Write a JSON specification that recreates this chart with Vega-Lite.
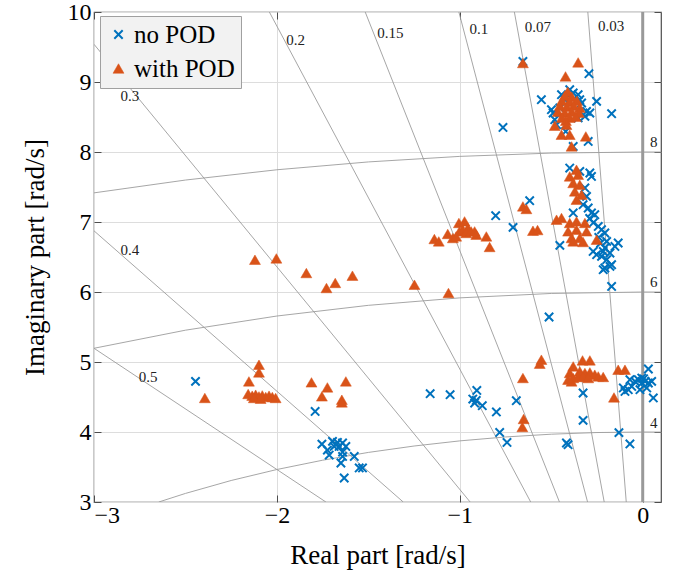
{
  "$schema": "https://vega.github.io/schema/vega-lite/v6.json",
  "width": 567,
  "height": 490,
  "autosize": "none",
  "padding": {"left": 94, "top": 12, "right": 15, "bottom": 79},
  "config": {
    "font": "Liberation Serif",
    "view": {"stroke": "#4d4d4d", "strokeWidth": 1.2},
    "axis": {
      "labelFontSize": 24,
      "titleFontSize": 27,
      "titleFontWeight": "normal",
      "labelColor": "#000000",
      "titleColor": "#000000",
      "gridColor": "#dddddd",
      "gridWidth": 1,
      "tickColor": "#4d4d4d",
      "tickSize": -7,
      "domain": false
    }
  },
  "datasets": {
    "zeta": [
      {"z": "0.03", "re": -0.0900, "im": 3}, {"z": "0.03", "re": -0.3001, "im": 10},
      {"z": "0.07", "re": -0.2105, "im": 3}, {"z": "0.07", "re": -0.7017, "im": 10},
      {"z": "0.1", "re": -0.3015, "im": 3}, {"z": "0.1", "re": -1.0050, "im": 10},
      {"z": "0.15", "re": -0.4552, "im": 3}, {"z": "0.15", "re": -1.5172, "im": 10},
      {"z": "0.2", "re": -0.6124, "im": 3}, {"z": "0.2", "re": -2.0412, "im": 10},
      {"z": "0.3", "re": -0.9435, "im": 3}, {"z": "0.3", "re": -3.0, "im": 9.539},
      {"z": "0.4", "re": -1.3093, "im": 3}, {"z": "0.4", "re": -3.0, "im": 6.874},
      {"z": "0.5", "re": -1.7321, "im": 3}, {"z": "0.5", "re": -3.0, "im": 5.196}
    ],
    "circ": [
      {"r": 4, "re": -2.6458, "im": 3.0}, {"r": 4, "re": -2.5, "im": 3.1225}, {"r": 4, "re": -2.25, "im": 3.3072},
      {"r": 4, "re": -2.0, "im": 3.4641}, {"r": 4, "re": -1.75, "im": 3.5969}, {"r": 4, "re": -1.5, "im": 3.7081},
      {"r": 4, "re": -1.25, "im": 3.7997}, {"r": 4, "re": -1.0, "im": 3.8730}, {"r": 4, "re": -0.75, "im": 3.9291},
      {"r": 4, "re": -0.5, "im": 3.9686}, {"r": 4, "re": -0.25, "im": 3.9922}, {"r": 4, "re": 0.0, "im": 4.0},
      {"r": 4, "re": 0.1, "im": 3.9988},
      {"r": 6, "re": -3.0, "im": 5.1962}, {"r": 6, "re": -2.5, "im": 5.4544}, {"r": 6, "re": -2.0, "im": 5.6569},
      {"r": 6, "re": -1.5, "im": 5.8095}, {"r": 6, "re": -1.0, "im": 5.9161}, {"r": 6, "re": -0.5, "im": 5.9791},
      {"r": 6, "re": 0.0, "im": 6.0}, {"r": 6, "re": 0.1, "im": 5.9992},
      {"r": 8, "re": -3.0, "im": 7.4162}, {"r": 8, "re": -2.5, "im": 7.5993}, {"r": 8, "re": -2.0, "im": 7.7460},
      {"r": 8, "re": -1.5, "im": 7.8581}, {"r": 8, "re": -1.0, "im": 7.9373}, {"r": 8, "re": -0.5, "im": 7.9844},
      {"r": 8, "re": 0.0, "im": 8.0}, {"r": 8, "re": 0.1, "im": 7.9994}
    ],
    "labels": [
      {"t": "0.2", "re": -1.949, "im": 9.60},
      {"t": "0.15", "re": -1.451, "im": 9.70},
      {"t": "0.1", "re": -0.947, "im": 9.76},
      {"t": "0.07", "re": -0.645, "im": 9.79},
      {"t": "0.03", "re": -0.245, "im": 9.80},
      {"t": "0.3", "re": -2.855, "im": 8.80},
      {"t": "0.4", "re": -2.855, "im": 6.60},
      {"t": "0.5", "re": -2.756, "im": 4.79},
      {"t": "8", "re": 0.040, "im": 8.145},
      {"t": "6", "re": 0.040, "im": 6.146},
      {"t": "4", "re": 0.040, "im": 4.133}
    ],
    "poles": [
      {"s": "no POD", "re": -0.655, "im": 9.294}, {"s": "no POD", "re": -0.294, "im": 9.119},
      {"s": "no POD", "re": -0.554, "im": 8.747}, {"s": "no POD", "re": -0.499, "im": 8.604},
      {"s": "no POD", "re": -0.490, "im": 8.557}, {"s": "no POD", "re": -0.444, "im": 8.819},
      {"s": "no POD", "re": -0.380, "im": 8.843}, {"s": "no POD", "re": -0.353, "im": 8.819},
      {"s": "no POD", "re": -0.344, "im": 8.747}, {"s": "no POD", "re": -0.334, "im": 8.700},
      {"s": "no POD", "re": -0.252, "im": 8.723}, {"s": "no POD", "re": -0.170, "im": 8.547},
      {"s": "no POD", "re": -0.307, "im": 8.580}, {"s": "no POD", "re": -0.289, "im": 8.557},
      {"s": "no POD", "re": -0.316, "im": 8.509}, {"s": "no POD", "re": -0.353, "im": 8.486},
      {"s": "no POD", "re": -0.481, "im": 8.461}, {"s": "no POD", "re": -0.471, "im": 8.390},
      {"s": "no POD", "re": -0.764, "im": 8.351}, {"s": "no POD", "re": -0.421, "im": 8.294},
      {"s": "no POD", "re": -0.298, "im": 8.151}, {"s": "no POD", "re": -0.380, "im": 8.080},
      {"s": "no POD", "re": -0.426, "im": 8.747}, {"s": "no POD", "re": -0.399, "im": 8.890},
      {"s": "no POD", "re": -0.453, "im": 8.630},
      {"s": "no POD", "re": -0.399, "im": 7.771}, {"s": "no POD", "re": -0.344, "im": 7.723},
      {"s": "no POD", "re": -0.289, "im": 7.700}, {"s": "no POD", "re": -0.280, "im": 7.651},
      {"s": "no POD", "re": -0.316, "im": 7.486}, {"s": "no POD", "re": -0.307, "im": 7.366},
      {"s": "no POD", "re": -0.326, "im": 7.247}, {"s": "no POD", "re": -0.298, "im": 7.200},
      {"s": "no POD", "re": -0.280, "im": 7.129}, {"s": "no POD", "re": -0.262, "im": 7.104},
      {"s": "no POD", "re": -0.380, "im": 7.129}, {"s": "no POD", "re": -0.243, "im": 6.937},
      {"s": "no POD", "re": -0.225, "im": 6.890}, {"s": "no POD", "re": -0.207, "im": 6.843},
      {"s": "no POD", "re": -0.134, "im": 6.700}, {"s": "no POD", "re": -0.152, "im": 6.651},
      {"s": "no POD", "re": -0.197, "im": 6.723}, {"s": "no POD", "re": -0.207, "im": 6.629},
      {"s": "no POD", "re": -0.271, "im": 6.580}, {"s": "no POD", "re": -0.252, "im": 6.533},
      {"s": "no POD", "re": -0.225, "im": 6.509}, {"s": "no POD", "re": -0.197, "im": 6.461},
      {"s": "no POD", "re": -0.170, "im": 6.390}, {"s": "no POD", "re": -0.207, "im": 6.343},
      {"s": "no POD", "re": -0.216, "im": 6.580}, {"s": "no POD", "re": -0.179, "im": 6.557},
      {"s": "no POD", "re": -0.453, "im": 6.666}, {"s": "no POD", "re": -0.618, "im": 7.304},
      {"s": "no POD", "re": -0.804, "im": 7.090}, {"s": "no POD", "re": -0.709, "im": 6.923},
      {"s": "no POD", "re": -0.170, "im": 6.080}, {"s": "no POD", "re": -0.216, "im": 6.319},
      {"s": "no POD", "re": -0.179, "im": 6.366}, {"s": "no POD", "re": -0.290, "im": 7.050},
      {"s": "no POD", "re": -0.270, "im": 6.990}, {"s": "no POD", "re": -0.240, "im": 6.780},
      {"s": "no POD", "re": -0.230, "im": 6.700},
      {"s": "no POD", "re": -2.445, "im": 4.723}, {"s": "no POD", "re": -1.791, "im": 4.294},
      {"s": "no POD", "re": -1.754, "im": 3.827}, {"s": "no POD", "re": -1.724, "im": 3.741},
      {"s": "no POD", "re": -1.714, "im": 3.670}, {"s": "no POD", "re": -1.696, "im": 3.866},
      {"s": "no POD", "re": -1.678, "im": 3.819}, {"s": "no POD", "re": -1.660, "im": 3.794},
      {"s": "no POD", "re": -1.687, "im": 3.794}, {"s": "no POD", "re": -1.669, "im": 3.851},
      {"s": "no POD", "re": -1.641, "im": 3.843}, {"s": "no POD", "re": -1.623, "im": 3.794},
      {"s": "no POD", "re": -1.641, "im": 3.651}, {"s": "no POD", "re": -1.650, "im": 3.557},
      {"s": "no POD", "re": -1.632, "im": 3.343}, {"s": "no POD", "re": -1.577, "im": 3.651},
      {"s": "no POD", "re": -1.550, "im": 3.486}, {"s": "no POD", "re": -1.532, "im": 3.486},
      {"s": "no POD", "re": -1.641, "im": 3.714},
      {"s": "no POD", "re": -0.512, "im": 5.643}, {"s": "no POD", "re": -1.162, "im": 4.547},
      {"s": "no POD", "re": -1.053, "im": 4.533}, {"s": "no POD", "re": -0.907, "im": 4.594},
      {"s": "no POD", "re": -0.929, "im": 4.471}, {"s": "no POD", "re": -0.919, "im": 4.414},
      {"s": "no POD", "re": -0.910, "im": 4.451}, {"s": "no POD", "re": -0.877, "im": 4.376},
      {"s": "no POD", "re": -0.800, "im": 4.286}, {"s": "no POD", "re": -0.691, "im": 4.447},
      {"s": "no POD", "re": -0.782, "im": 3.994}, {"s": "no POD", "re": -0.742, "im": 3.851},
      {"s": "no POD", "re": -0.326, "im": 4.557}, {"s": "no POD", "re": -0.326, "im": 4.166},
      {"s": "no POD", "re": -0.417, "im": 3.843}, {"s": "no POD", "re": -0.408, "im": 3.819},
      {"s": "no POD", "re": 0.031, "im": 4.900}, {"s": "no POD", "re": -0.070, "im": 4.747},
      {"s": "no POD", "re": -0.042, "im": 4.723}, {"s": "no POD", "re": -0.024, "im": 4.747},
      {"s": "no POD", "re": -0.005, "im": 4.771}, {"s": "no POD", "re": 0.013, "im": 4.723},
      {"s": "no POD", "re": 0.031, "im": 4.700}, {"s": "no POD", "re": 0.049, "im": 4.723},
      {"s": "no POD", "re": -0.106, "im": 4.629}, {"s": "no POD", "re": -0.079, "im": 4.604},
      {"s": "no POD", "re": -0.097, "im": 4.580}, {"s": "no POD", "re": -0.060, "im": 4.651},
      {"s": "no POD", "re": 0.058, "im": 4.486}, {"s": "no POD", "re": -0.015, "im": 4.604},
      {"s": "no POD", "re": 0.022, "im": 4.629}, {"s": "no POD", "re": -0.130, "im": 3.991},
      {"s": "no POD", "re": -0.070, "im": 3.830}, {"s": "no POD", "re": -0.005, "im": 4.700},
      {"s": "no POD", "re": 0.005, "im": 4.760},
      {"s": "with POD", "re": -0.655, "im": 9.271}, {"s": "with POD", "re": -0.353, "im": 9.280},
      {"s": "with POD", "re": -0.422, "im": 9.080}, {"s": "with POD", "re": -0.410, "im": 8.861},
      {"s": "with POD", "re": -0.426, "im": 8.804}, {"s": "with POD", "re": -0.388, "im": 8.790},
      {"s": "with POD", "re": -0.442, "im": 8.733}, {"s": "with POD", "re": -0.399, "im": 8.719},
      {"s": "with POD", "re": -0.360, "im": 8.733}, {"s": "with POD", "re": -0.453, "im": 8.661},
      {"s": "with POD", "re": -0.415, "im": 8.647}, {"s": "with POD", "re": -0.377, "im": 8.661},
      {"s": "with POD", "re": -0.344, "im": 8.633}, {"s": "with POD", "re": -0.464, "im": 8.576},
      {"s": "with POD", "re": -0.426, "im": 8.561}, {"s": "with POD", "re": -0.388, "im": 8.576},
      {"s": "with POD", "re": -0.349, "im": 8.561}, {"s": "with POD", "re": -0.442, "im": 8.490},
      {"s": "with POD", "re": -0.399, "im": 8.490}, {"s": "with POD", "re": -0.366, "im": 8.504},
      {"s": "with POD", "re": -0.420, "im": 8.447}, {"s": "with POD", "re": -0.481, "im": 8.376},
      {"s": "with POD", "re": -0.417, "im": 8.390}, {"s": "with POD", "re": -0.444, "im": 8.247},
      {"s": "with POD", "re": -0.399, "im": 8.247}, {"s": "with POD", "re": -0.311, "im": 8.223},
      {"s": "with POD", "re": -0.389, "im": 8.080},
      {"s": "with POD", "re": -0.362, "im": 7.747}, {"s": "with POD", "re": -0.399, "im": 7.651},
      {"s": "with POD", "re": -0.353, "im": 7.676}, {"s": "with POD", "re": -0.380, "im": 7.557},
      {"s": "with POD", "re": -0.344, "im": 7.533}, {"s": "with POD", "re": -0.371, "im": 7.437},
      {"s": "with POD", "re": -0.334, "im": 7.390}, {"s": "with POD", "re": -0.362, "im": 7.319},
      {"s": "with POD", "re": -0.471, "im": 7.033}, {"s": "with POD", "re": -0.444, "im": 7.057},
      {"s": "with POD", "re": -0.399, "im": 6.986}, {"s": "with POD", "re": -0.362, "im": 7.009},
      {"s": "with POD", "re": -0.316, "im": 6.986}, {"s": "with POD", "re": -0.408, "im": 6.866},
      {"s": "with POD", "re": -0.362, "im": 6.890}, {"s": "with POD", "re": -0.307, "im": 6.866},
      {"s": "with POD", "re": -0.389, "im": 6.771}, {"s": "with POD", "re": -0.344, "im": 6.771},
      {"s": "with POD", "re": -0.380, "im": 6.723}, {"s": "with POD", "re": -0.326, "im": 6.714},
      {"s": "with POD", "re": -0.252, "im": 6.747}, {"s": "with POD", "re": -0.600, "im": 6.875},
      {"s": "with POD", "re": -0.575, "im": 6.885}, {"s": "with POD", "re": -0.655, "im": 7.223},
      {"s": "with POD", "re": -0.636, "im": 7.186},
      {"s": "with POD", "re": -1.139, "im": 6.757}, {"s": "with POD", "re": -1.115, "im": 6.723},
      {"s": "with POD", "re": -1.066, "im": 6.829}, {"s": "with POD", "re": -1.038, "im": 6.771},
      {"s": "with POD", "re": -1.020, "im": 6.794}, {"s": "with POD", "re": -1.005, "im": 6.986},
      {"s": "with POD", "re": -0.974, "im": 7.009}, {"s": "with POD", "re": -1.002, "im": 6.866},
      {"s": "with POD", "re": -0.984, "im": 6.890}, {"s": "with POD", "re": -0.956, "im": 6.914},
      {"s": "with POD", "re": -0.965, "im": 6.843}, {"s": "with POD", "re": -0.938, "im": 6.866},
      {"s": "with POD", "re": -0.919, "im": 6.866}, {"s": "with POD", "re": -0.910, "im": 6.819},
      {"s": "with POD", "re": -0.855, "im": 6.794}, {"s": "with POD", "re": -0.837, "im": 6.643},
      {"s": "with POD", "re": -1.248, "im": 6.104}, {"s": "with POD", "re": -1.062, "im": 5.986},
      {"s": "with POD", "re": -2.120, "im": 6.461}, {"s": "with POD", "re": -2.003, "im": 6.480},
      {"s": "with POD", "re": -1.839, "im": 6.271}, {"s": "with POD", "re": -1.729, "im": 6.057},
      {"s": "with POD", "re": -1.681, "im": 6.129}, {"s": "with POD", "re": -1.587, "im": 6.233},
      {"s": "with POD", "re": -2.394, "im": 4.486}, {"s": "with POD", "re": -2.098, "im": 4.961},
      {"s": "with POD", "re": -2.098, "im": 4.851}, {"s": "with POD", "re": -2.153, "im": 4.723},
      {"s": "with POD", "re": -2.157, "im": 4.543}, {"s": "with POD", "re": -2.135, "im": 4.519},
      {"s": "with POD", "re": -2.116, "im": 4.533}, {"s": "with POD", "re": -2.098, "im": 4.509},
      {"s": "with POD", "re": -2.080, "im": 4.523}, {"s": "with POD", "re": -2.061, "im": 4.500},
      {"s": "with POD", "re": -2.043, "im": 4.519}, {"s": "with POD", "re": -2.025, "im": 4.500},
      {"s": "with POD", "re": -2.007, "im": 4.486}, {"s": "with POD", "re": -2.126, "im": 4.486},
      {"s": "with POD", "re": -2.089, "im": 4.476}, {"s": "with POD", "re": -1.811, "im": 4.709},
      {"s": "with POD", "re": -1.724, "im": 4.637}, {"s": "with POD", "re": -1.754, "im": 4.509},
      {"s": "with POD", "re": -1.623, "im": 4.723}, {"s": "with POD", "re": -1.645, "im": 4.461},
      {"s": "with POD", "re": -1.645, "im": 4.423},
      {"s": "with POD", "re": -0.554, "im": 5.033}, {"s": "with POD", "re": -0.563, "im": 4.976},
      {"s": "with POD", "re": -0.655, "im": 4.771}, {"s": "with POD", "re": -0.651, "im": 4.186},
      {"s": "with POD", "re": -0.658, "im": 4.071}, {"s": "with POD", "re": -0.380, "im": 4.937},
      {"s": "with POD", "re": -0.399, "im": 4.843}, {"s": "with POD", "re": -0.408, "im": 4.747},
      {"s": "with POD", "re": -0.389, "im": 4.723}, {"s": "with POD", "re": -0.329, "im": 5.023},
      {"s": "with POD", "re": -0.289, "im": 5.023}, {"s": "with POD", "re": -0.344, "im": 4.866},
      {"s": "with POD", "re": -0.316, "im": 4.843}, {"s": "with POD", "re": -0.289, "im": 4.851},
      {"s": "with POD", "re": -0.262, "im": 4.819}, {"s": "with POD", "re": -0.243, "im": 4.794},
      {"s": "with POD", "re": -0.216, "im": 4.786}, {"s": "with POD", "re": -0.380, "im": 4.771},
      {"s": "with POD", "re": -0.353, "im": 4.794}, {"s": "with POD", "re": -0.326, "im": 4.786},
      {"s": "with POD", "re": -0.298, "im": 4.771}, {"s": "with POD", "re": -0.134, "im": 4.890},
      {"s": "with POD", "re": -0.097, "im": 4.890}, {"s": "with POD", "re": -0.157, "im": 4.494}
    ]
  },
  "resolve": {"axis": {"x": "independent", "y": "independent"}},
  "layer": [
    {
      "data": {"name": "zeta"},
      "mark": {"type": "line", "color": "#9c9c9c", "strokeWidth": 0.9, "clip": true},
      "encoding": {
        "x": {"field": "re", "type": "quantitative",
              "scale": {"domain": [-3, 0.1], "nice": false, "zero": false},
              "axis": {"orient": "bottom", "values": [-3, -2, -1, 0], "title": "Real part [rad/s]", "grid": true, "labelPadding": 8, "titlePadding": 15}},
        "y": {"field": "im", "type": "quantitative",
              "scale": {"domain": [3, 10], "nice": false, "zero": false},
              "axis": {"orient": "left", "values": [3, 4, 5, 6, 7, 8, 9, 10], "title": "Imaginary part [rad/s]", "grid": true, "labelPadding": 10, "titlePadding": 18}},
        "detail": {"field": "z"}
      }
    },
    {
      "data": {"name": "circ"},
      "mark": {"type": "line", "color": "#9c9c9c", "strokeWidth": 0.9, "clip": true},
      "encoding": {
        "x": {"field": "re", "type": "quantitative",
              "axis": {"orient": "top", "values": [-3, -2, -1, 0], "labels": false, "grid": false, "title": null}},
        "y": {"field": "im", "type": "quantitative",
              "axis": {"orient": "right", "values": [3, 4, 5, 6, 7, 8, 9, 10], "labels": false, "grid": false, "title": null}},
        "detail": {"field": "r"}
      }
    },
    {
      "data": {"values": [{"re": 0}]},
      "mark": {"type": "rule", "color": "#999999", "strokeWidth": 3},
      "encoding": {"x": {"field": "re", "type": "quantitative", "axis": null}}
    },
    {
      "data": {"name": "labels"},
      "mark": {"type": "text", "align": "left", "baseline": "middle", "fontSize": 15, "color": "#222222"},
      "encoding": {
        "x": {"field": "re", "type": "quantitative", "axis": null},
        "y": {"field": "im", "type": "quantitative", "axis": null},
        "text": {"field": "t"}
      }
    },
    {
      "data": {"name": "poles"},
      "mark": {"type": "point", "opacity": 1},
      "encoding": {
        "x": {"field": "re", "type": "quantitative", "axis": null},
        "y": {"field": "im", "type": "quantitative", "axis": null},
        "shape": {"field": "s", "type": "nominal",
                  "scale": {"domain": ["no POD", "with POD"], "range": ["M-1,-1L1,1M-1,1L1,-1", "triangle-up"]},
                  "legend": {"orient": "none", "legendX": 6, "legendY": 4, "title": null, "fillColor": "#f2f2f2", "strokeColor": "#a0a0a0", "padding": 6, "labelFontSize": 25, "rowPadding": 8, "labelOffset": 3}},
        "fill": {"field": "s", "type": "nominal",
                 "scale": {"domain": ["no POD", "with POD"], "range": ["transparent", "#D95319"]}},
        "stroke": {"field": "s", "type": "nominal",
                   "scale": {"domain": ["no POD", "with POD"], "range": ["#0072BD", "#D95319"]}},
        "strokeWidth": {"field": "s", "type": "nominal",
                        "scale": {"domain": ["no POD", "with POD"], "range": [2, 0.5]}},
        "size": {"field": "s", "type": "nominal",
                 "scale": {"domain": ["no POD", "with POD"], "range": [70, 120]}}
      }
    }
  ]
}
